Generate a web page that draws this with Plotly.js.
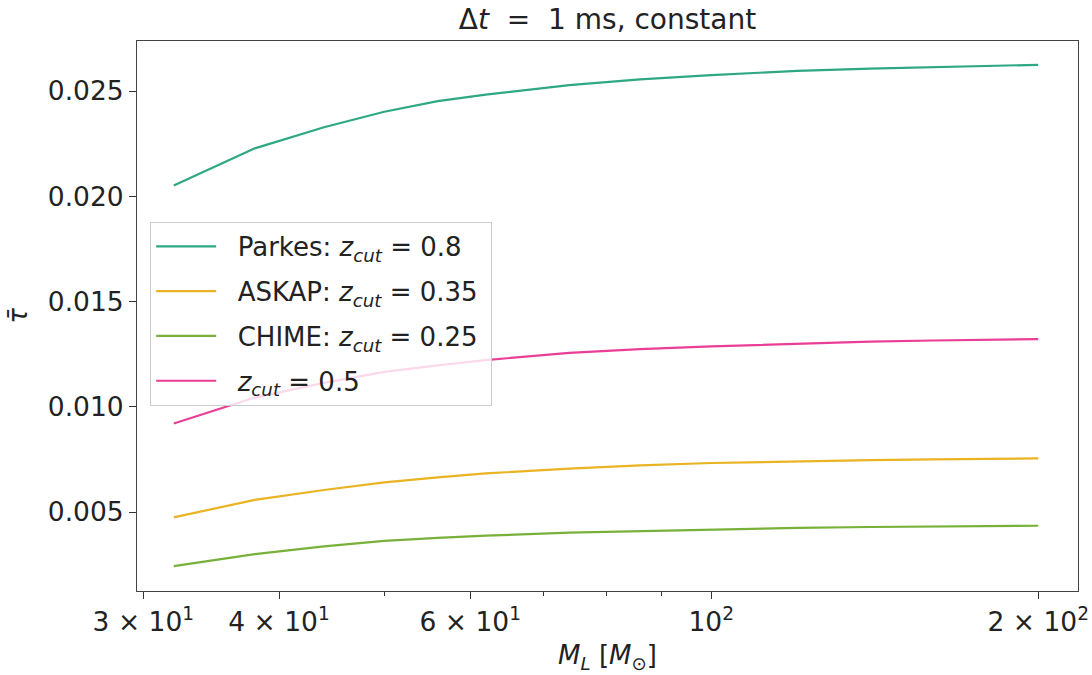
<!DOCTYPE html>
<html>
<head>
<meta charset="utf-8">
<script src="https://cdn.plot.ly/plotly-3.0.1.min.js"></script>
<style>html,body{margin:0;padding:0;background:#fff;}#chart{width:1092px;height:675px;}</style>
</head>
<body>
<div id="chart"></div>
<script>
// Lens mass M_L [M_sun]
const masses = [32, 38, 44, 50, 56, 62, 74, 86, 100, 120, 140, 160, 180, 200];

// Mean optical depth (tau bar) for each survey
const parkes = [0.02052, 0.02228, 0.02328, 0.02402, 0.02452, 0.02483, 0.02528, 0.02556, 0.02576, 0.02596, 0.02607, 0.02614, 0.02619, 0.02625];
const askap  = [0.00475, 0.00558, 0.00605, 0.00641, 0.00665, 0.00684, 0.00706, 0.00722, 0.00733, 0.00742, 0.00747, 0.00750, 0.00753, 0.00755];
const chime  = [0.00243, 0.00300, 0.00337, 0.00363, 0.00377, 0.00388, 0.00402, 0.00410, 0.00418, 0.00425, 0.00429, 0.00431, 0.00433, 0.00435];
const zcut05 = [0.00921, 0.01044, 0.01114, 0.01166, 0.01197, 0.01222, 0.01256, 0.01274, 0.01287, 0.01301, 0.01310, 0.01315, 0.01319, 0.01322];

const seriesNames = [
  "Parkes: <i>z</i><sub><i>cut</i></sub> = 0.8",
  "ASKAP: <i>z</i><sub><i>cut</i></sub> = 0.35",
  "CHIME: <i>z</i><sub><i>cut</i></sub> = 0.25",
  "<i>z</i><sub><i>cut</i></sub> = 0.5"
];
const seriesColors = ["#2ea883", "#e9b322", "#77b139", "#ea3e96"];
const seriesData = [parkes, askap, chime, zcut05];

const xTickVals = [30, 40, 60, 100, 200];
const xTickText = ["3 × 10<sup>1</sup>", "4 × 10<sup>1</sup>", "6 × 10<sup>1</sup>", "10<sup>2</sup>", "2 × 10<sup>2</sup>"];
const xMinorVals = [50, 70, 80, 90];
const yTickVals = [0.005, 0.010, 0.015, 0.020, 0.025];

const traces = seriesData.map((ys, i) => ({
  x: masses, y: ys, type: "scatter", mode: "lines",
  name: "&nbsp;&nbsp;" + seriesNames[i] + "&nbsp;", legendgroup: "g" + i,
  line: {color: seriesColors[i], width: 2.2}
}));

const F = "DejaVu Sans, sans-serif";
const layout = {
  width: 1092, height: 675,
  margin: {l: 137, r: 14, t: 41, b: 84},
  paper_bgcolor: "#fff", plot_bgcolor: "#fff",
  font: {family: F, size: 26, color: "#222"},
  title: {text: "Δ<i>t</i>&nbsp;&nbsp;=&nbsp;&nbsp;1 ms, constant", font: {family: F, size: 28, color: "#222"},
          x: 0.5, xref: "paper", xanchor: "center", y: 0.972, yref: "container", yanchor: "middle"},
  showlegend: true,
  legend: {x: 0.014, y: 0.671, xanchor: "left", yanchor: "top",
           bgcolor: "rgba(255,255,255,0.8)", bordercolor: "#cccccc", borderwidth: 1,
           font: {family: F, size: 26, color: "#222"}, tracegroupgap: 8, traceorder: "grouped",
           itemwidth: 60},
  xaxis: {
    type: "log", range: [Math.log10(29.6), Math.log10(217.6)],
    tickmode: "array", tickvals: xTickVals, ticktext: xTickText,
    ticks: "outside", ticklen: 7, tickwidth: 1, tickcolor: "#333",
    minor: {tickmode: "array", tickvals: xMinorVals, ticks: "outside", ticklen: 4, tickcolor: "#333", showgrid: false},
    showgrid: false, zeroline: false,
    showline: true, mirror: true, linecolor: "#444", linewidth: 1,
    tickfont: {family: F, size: 26.5, color: "#222"},
    title: {text: "<i>M</i><sub><i>L</i></sub> [<i>M</i><sub>⊙</sub>]", font: {family: F, size: 26, color: "#222"}, standoff: 10}
  },
  yaxis: {
    range: [0.00125, 0.02738],
    tickmode: "array", tickvals: yTickVals, tickformat: ".3f",
    ticks: "outside", ticklen: 7, tickwidth: 1, tickcolor: "#333",
    showgrid: false, zeroline: false,
    showline: true, mirror: true, linecolor: "#444", linewidth: 1,
    tickfont: {family: F, size: 26.5, color: "#222"},
    title: {text: "<i>τ̄</i>", font: {family: F, size: 26, color: "#222"}, standoff: 12}
  }
};

Plotly.newPlot("chart", traces, layout, {displayModeBar: false, staticPlot: true});
</script>
</body>
</html>
